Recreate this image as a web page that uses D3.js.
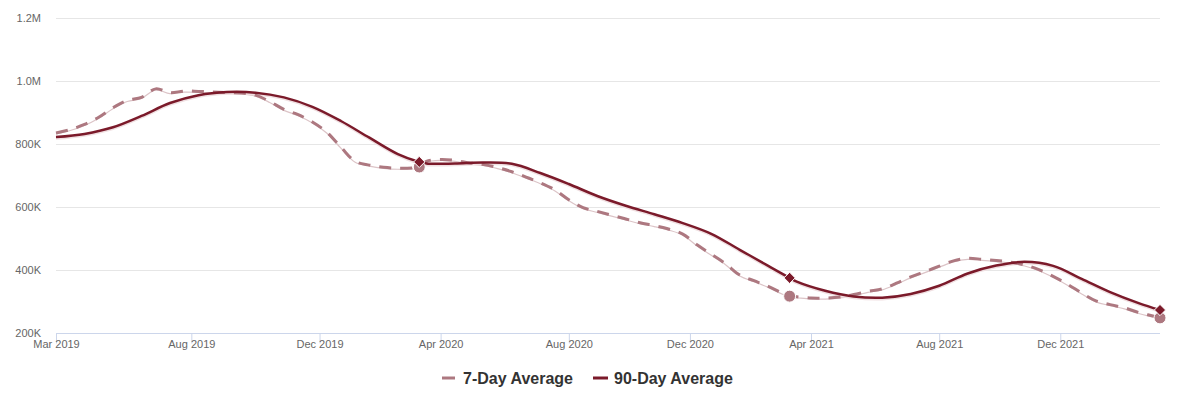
<!DOCTYPE html>
<html><head><meta charset="utf-8">
<script src="https://cdn.jsdelivr.net/npm/d3@7/dist/d3.min.js"></script>
<style>body{margin:0;background:#fff;font-family:"Liberation Sans",Arial,sans-serif}</style>
</head><body><svg id="c" width="1179" height="404"></svg>
<script>
// Weekly data starting at this date; x positions are given as week offsets
const startDate = "2019-03-21";
const totalWeeks = 155;

const weeks7 = [0,2,4,6,8,10,12,14,16,18,20,22,24,26,28,30,32,34,36,38,40,42,44,46,48,50,51,52,54,56,58,60,62,64,66,68,70,72,74,76,78,80,82,84,86,88,90,92,94,96,98,100,102,103,104,106,108,110,112,114,116,118,120,122,124,126,128,130,132,134,136,138,140,142,144,146,148,150,152,154,155];
const values7 = [835,846,862,885,915,938,948,975,963,968,967,965,963,962,955,935,910,893,870,838,790,745,733,726,723,724,727,745,751,748,740,735,725,712,695,677,655,623,598,586,574,562,550,541,530,514,480,450,420,384,366,348,326,317,315,311,311,314,322,332,340,358,378,395,412,429,437,434,430,425,416,401,380,355,327,302,290,280,265,254,248];

const weeks90 = [0,4,8,12,16,20,24,28,32,36,40,44,48,51,52,56,60,64,68,72,76,80,84,88,92,96,100,103,104,108,112,116,120,124,128,132,136,140,144,148,152,155];
const values90 = [822,832,853,889,930,955,965,963,948,918,873,820,768,743,738,738,741,737,708,673,635,604,577,549,515,464,413,375,363,334,316,312,324,350,389,414,426,413,372,330,295,273];

const markerWeeks = [51,103,155];

const tickWeeks = [0,19,37,54,72,89,106,124,141];
const tickLabels = ["Mar 2019","Aug 2019","Dec 2019","Apr 2020","Aug 2020","Dec 2020","Apr 2021","Aug 2021","Dec 2021"];
const yTicks = [200,400,600,800,1000,1200];
const yTickLabels = ["200K","400K","600K","800K","1.0M","1.2M"];

const seriesNames = ["7-Day Average","90-Day Average"];
const color7 = "#ad7880", color90 = "#7b1a2a";

const svg = d3.select("#c");
const parse = d3.timeParse("%Y-%m-%d");
const t0 = parse(startDate);
const wd = w => d3.timeDay.offset(t0, w*7);

const x = d3.scaleTime().domain([t0, wd(totalWeeks)]).range([56, 1160]);
const y = d3.scaleLinear().domain([200,1200]).range([333,18]);

// grid
svg.append("g").selectAll("line").data(yTicks.slice(1)).join("line")
  .attr("x1",56).attr("x2",1160).attr("y1",d=>y(d)+0.5).attr("y2",d=>y(d)+0.5)
  .attr("stroke","#e6e6e6").attr("stroke-width",1);

// y labels
svg.append("g").selectAll("text").data(yTicks).join("text")
  .attr("x",41).attr("y",d=>y(d)+4).attr("text-anchor","end")
  .attr("font-size","11px").attr("fill","#666").text((d,i)=>yTickLabels[i]);

// x axis
const xAxis = d3.axisBottom(x).tickValues(tickWeeks.map(wd))
  .tickFormat((d,i)=>tickLabels[i]).tickSize(10).tickPadding(2);
const gx = svg.append("g").attr("transform","translate(0,333.5)").call(xAxis);
gx.select(".domain").attr("stroke","#ccd6eb").attr("d","M56,0H1160");
gx.selectAll(".tick line").attr("stroke","#ccd6eb");
gx.selectAll(".tick text").attr("font-size","11px").attr("fill","#666")
  .attr("font-family","Liberation Sans, Arial, sans-serif").attr("dy","0.9em").attr("y",5);

const line = d3.line().x(d=>x(wd(d[0]))).y(d=>y(d[1])).curve(d3.curveCatmullRom.alpha(0.5));
const d7 = weeks7.map((w,i)=>[w,values7[i]]);
const d90 = weeks90.map((w,i)=>[w,values90[i]]);

// shadows / underlays
svg.append("path").attr("d",line(d7)).attr("fill","none").attr("stroke","#dcc4c7").attr("stroke-width",1.2).attr("transform","translate(0,1)");
svg.append("path").attr("d",line(d90)).attr("fill","none").attr("stroke","#f0e0e2").attr("stroke-width",2.5).attr("transform","translate(0,1.5)");

svg.append("path").attr("d",line(d7)).attr("fill","none").attr("stroke",color7)
  .attr("stroke-width",3).attr("stroke-dasharray","12,9");
svg.append("path").attr("d",line(d90)).attr("fill","none").attr("stroke",color90)
  .attr("stroke-width",2.5);

// markers
const v7at = w => values7[weeks7.indexOf(w)];
const v90at = w => values90[weeks90.indexOf(w)];
svg.append("g").selectAll("circle").data(markerWeeks).join("circle")
  .attr("cx",w=>x(wd(w))).attr("cy",w=>y(v7at(w))).attr("r",6)
  .attr("fill",color7).attr("stroke","#fff").attr("stroke-width",1);
const diamond = d3.symbol().type(d3.symbolDiamond2).size(80);
svg.append("g").selectAll("path").data(markerWeeks).join("path")
  .attr("transform",w=>`translate(${x(wd(w))},${y(v90at(w))})`).attr("d",diamond)
  .attr("fill",color90).attr("stroke","#fff").attr("stroke-width",1);

// legend
const lg = svg.append("g").attr("font-size","16px").attr("font-weight","bold").attr("fill","#333");
lg.append("line").attr("x1",442).attr("x2",455).attr("y1",378).attr("y2",378).attr("stroke",color7).attr("stroke-width",3);
lg.append("text").attr("x",463).attr("y",383.5).text(seriesNames[0]);
lg.append("line").attr("x1",593).attr("x2",608).attr("y1",378).attr("y2",378).attr("stroke",color90).attr("stroke-width",3);
lg.append("text").attr("x",614).attr("y",383.5).text(seriesNames[1]);
</script></body></html>
